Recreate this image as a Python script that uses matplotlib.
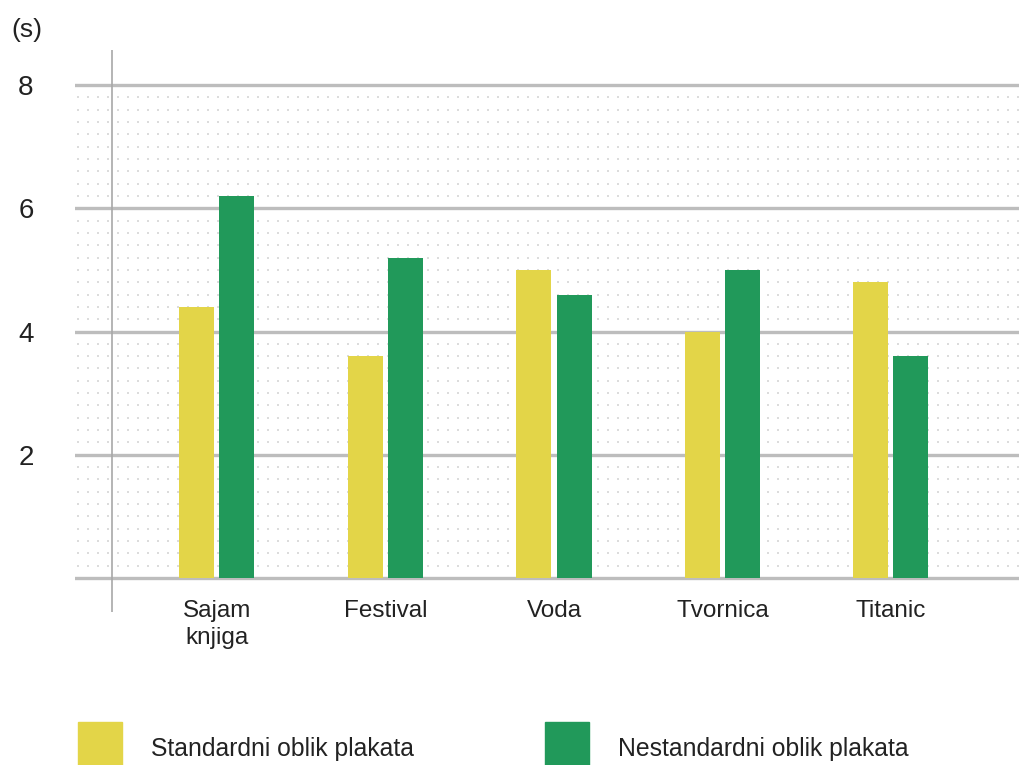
"""Poster reading time: standard vs non-standard poster shape."""

import matplotlib.pyplot as plt
import numpy as np

categories = ["Sajam\nknjiga", "Festival", "Voda", "Tvornica", "Titanic"]
standardni = [4.4, 3.6, 5.0, 4.0, 4.8]
nestandardni = [6.2, 5.2, 4.6, 5.0, 3.6]
y_ticks = [2, 4, 6, 8]

YELLOW = "#e3d548"
GREEN = "#21995a"
GRID = "#bdbdbd"
TEXT = "#222222"

W, H = 1020, 765
fig = plt.figure(figsize=(W / 100, H / 100), dpi=100)
plt.rcParams["font.family"] = ["Liberation Sans", "DejaVu Sans"]

# axes spans pixel x 75..1020, y 50..612 (y=0 at px 578, y=8 at px 85)
ax = fig.add_axes([75 / W, 1 - 612 / H, 945 / W, 562 / H])
px_per_unit = (578 - 85) / 8
ax.set_ylim(-(612 - 578) / px_per_unit, 8 + (85 - 50) / px_per_unit)
step = 168.5
ax.set_xlim((75 - 217) / step, (1020 - 217) / step)
ax.axis("off")

# dotted background texture
xl = ax.get_xlim()
gx = np.arange(xl[0] + 3 / step, xl[1], 10 / step)
gy = np.arange(0.2, 8, 0.2)
mx, my = np.meshgrid(gx, gy)
ax.scatter(mx.ravel(), my.ravel(), s=4, marker="s", color="#dcdcdc",
           linewidths=0, zorder=0)

for v in [0] + y_ticks:
    ax.axhline(v, color=GRID, linewidth=2.4, zorder=1)
    if v:
        fig.text(26 / W, 1 - (581 - v * px_per_unit) / H, str(v),
                 ha="center", va="center", fontsize=20, color=TEXT)

ax.axvline((112 - 217) / step, color="#a8a8a8", linewidth=1.2, zorder=1)

x = np.arange(len(categories))
bw = 35 / step
off = 20 / step
ax.bar(x - off, standardni, width=bw, color=YELLOW, zorder=2)
ax.bar(x + off, nestandardni, width=bw, color=GREEN, zorder=2)

for xi, lab in zip(x, categories):
    ax.text(xi, -0.36, lab, ha="center", va="top", fontsize=17.5,
            color=TEXT, linespacing=1.3)

fig.text(11 / W, 1 - 30 / H, "(s)", ha="left", va="center", fontsize=19,
         color=TEXT)

# legend
fig.patches.append(plt.Rectangle((78 / W, 0), 44 / W, 43 / H, color=YELLOW,
                                 transform=fig.transFigure))
fig.patches.append(plt.Rectangle((545 / W, 0), 44 / W, 43 / H, color=GREEN,
                                 transform=fig.transFigure))
fig.text(151 / W, 1 - 749 / H, "Standardni oblik plakata", ha="left",
         va="center", fontsize=17.8, color=TEXT)
fig.text(618 / W, 1 - 749 / H, "Nestandardni oblik plakata", ha="left",
         va="center", fontsize=17.8, color=TEXT)

fig.savefig("out.png", dpi=100)
